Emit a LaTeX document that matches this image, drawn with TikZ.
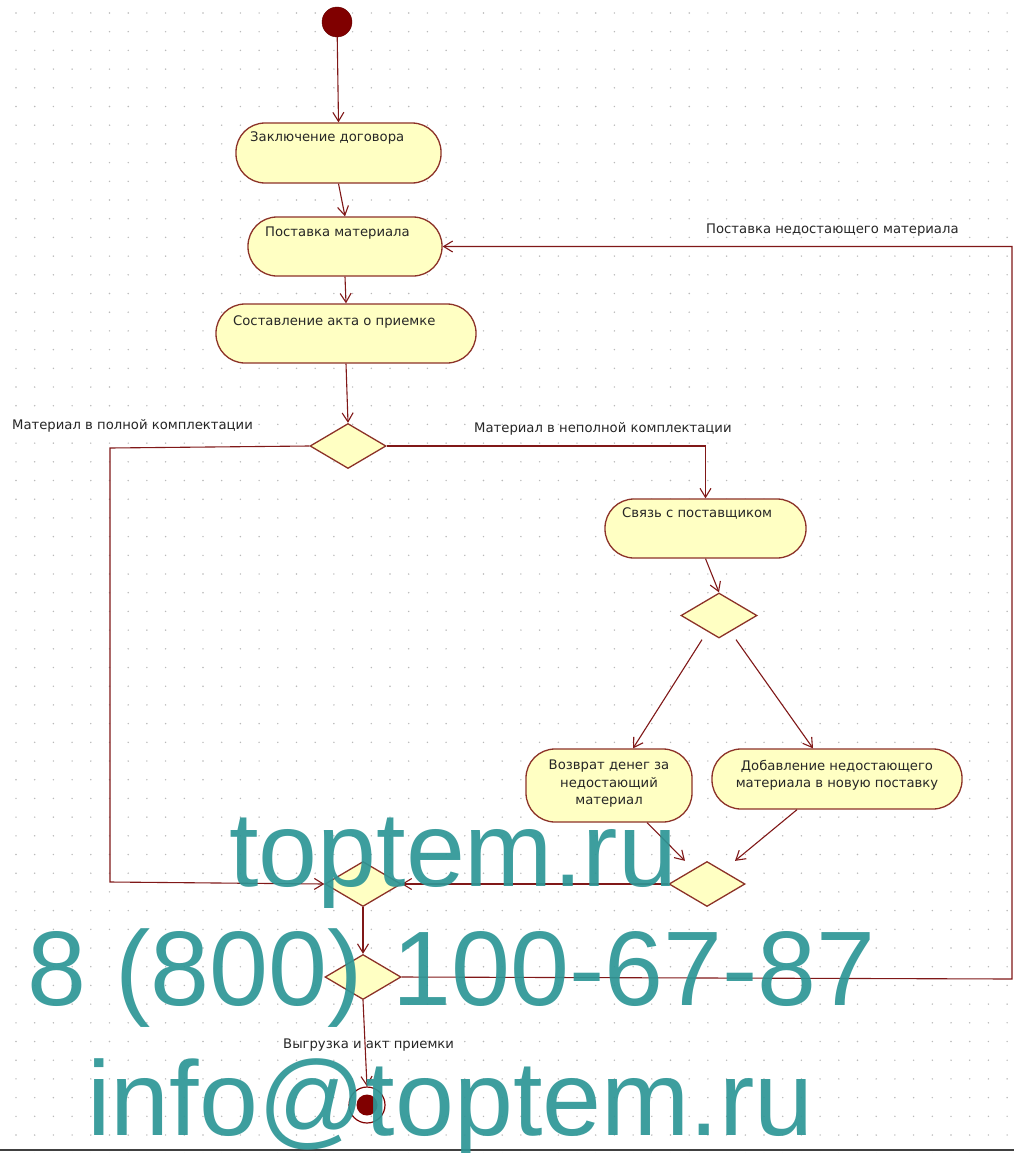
\documentclass[tikz,border=0pt]{standalone}
\usepackage{fontspec}
\setmainfont{DejaVu Sans}
\newfontfamily\wmfont{Liberation Sans}
\usetikzlibrary{arrows.meta,shapes.geometric,calc}
\definecolor{edgec}{RGB}{128,24,24}
\definecolor{fillc}{RGB}{255,255,195}
\definecolor{borderc}{RGB}{140,50,40}
\definecolor{startc}{RGB}{128,0,0}
\definecolor{wmc}{RGB}{45,150,150}
\definecolor{dotc}{RGB}{185,185,185}
\begin{document}
\begin{tikzpicture}[x=1pt,y=-1pt,
  act/.style={draw=borderc, fill=fillc, line width=1.3pt, rounded corners=29pt, inner sep=0pt},
  dec/.style={draw=borderc, fill=fillc, line width=1.3pt, diamond, inner sep=0pt, minimum width=76pt, minimum height=45pt},
  lbl/.style={font=\fontsize{13.2}{17.5}\selectfont, text=black!85, inner sep=0pt},
  flow/.style={draw=edgec, line width=1.1pt, -{Straight Barb[length=9pt,width=11pt]}},
  wm/.style={font=\wmfont\fontsize{106}{106}\selectfont, text=wmc, text opacity=0.92, inner sep=0pt}
]
\useasboundingbox (0,0) rectangle (1014,1153);
\fill[white] (0,0) rectangle (1014,1153);
\foreach \i in {0,...,54}{\foreach \j in {0,...,61}{\fill[dotc] (16+\i*18.7,13+\j*18.7) circle (0.8);}}

% nodes
\node[circle, fill=startc, draw=startc!80!black, minimum size=30pt, inner sep=0pt] (start) at (337,22) {};
\node[act, minimum width=205pt, minimum height=60pt] (n1) at (338.5,153) {};
\node[lbl, anchor=base west] (t1) at (250,142) {Заключение договора};
\node[act, minimum width=194pt, minimum height=59pt] (n2) at (345,246.5) {};
\node[lbl, anchor=base west] (t2) at (265,236) {Поставка материала};
\node[act, minimum width=260pt, minimum height=59pt] (n3) at (346,333.5) {};
\node[lbl, anchor=base west] (t3) at (233,325) {Составление акта о приемке};
\node[dec] (d1) at (348,446) {};
\node[act, minimum width=201pt, minimum height=59pt] (n4) at (705.5,528.5) {};
\node[lbl, anchor=base west] (t4) at (622,517) {Связь с поставщиком};
\node[dec] (d2) at (719,615.5) {};
\node[act, minimum width=166pt, minimum height=73pt] (n5) at (609,785.5) {};
\node[lbl, align=center] (t5) at (609,784) {Возврат денег за\\недостающий\\материал};
\node[act, minimum width=250pt, minimum height=60pt] (n6) at (837,779) {};
\node[lbl, align=center] (t6) at (837,775) {Добавление недостающего\\материала в новую поставку};
\node[dec] (d3) at (707,884) {};
\node[dec] (d4) at (363,884) {};
\node[dec] (d5) at (363,977) {};
\node[circle, draw=startc, line width=1.2pt, minimum size=36pt, inner sep=0pt] (end) at (367,1105) {};
\node[circle, fill=startc, minimum size=21pt, inner sep=0pt] (endin) at (end.center) {};

% coordinates for bends
\coordinate (cL1) at (110,448);
\coordinate (cL2) at (110,882);
\coordinate (cR1) at (1012,979);
\coordinate (cR2) at (1012,246.5);

% connectors
\draw[flow] (start) -- (n1.north);
\draw[flow] (n1.south) -- (n2.north);
\draw[flow] (n2.south) -- (n3.north);
\draw[flow] (n3.south) -- (d1.north);
\draw[flow] (d1.west) -- (cL1) -- (cL2) -- (d4.west);
\draw[flow] (d1.east) -| (n4.north);
\draw[flow] (n4.south) -- (d2.north);
\draw[flow] ($(d2.south)+(-17,1)$) -- ($(n5.north)+(24,0)$);
\draw[flow] ($(d2.south)+(17,1)$) -- ($(n6.north)+(-24,0)$);
\draw[flow] ($(n5.south)+(38,0)$) -- ($(d3.north)+(-22,0)$);
\draw[flow] ($(n6.south)+(-40,0)$) -- ($(d3.north)+(28,0)$);
\draw[flow] (d3.west) -- (d4.east);
\draw[flow] (d4.south) -- (d5.north);
\draw[flow] (d5.east) -- (cR1) -- (cR2) -- (n2.east);
\draw[flow] (d5.south) -- (end.north);

% edge labels
\node[lbl, anchor=base west] (l1) at (12,429) {Материал в полной комплектации};
\node[lbl, anchor=base west] (l2) at (474,432) {Материал в неполной комплектации};
\node[lbl, anchor=base west] (l3) at (706,233) {Поставка недостающего материала};
\node[lbl, anchor=base west] (l4) at (283,1048) {Выгрузка и акт приемки};

% bottom rule
\draw[black!75, line width=1.5pt] (0,1150) -- (1014,1150);

% watermark
\node[wm, anchor=base west] (w1) at (229,886) {toptem.ru};
\node[wm, anchor=base west] (w2) at (27,1005) {8 (800) 100-67-87};
\node[wm, anchor=base west] (w3) at (87,1135) {info@toptem.ru};
\end{tikzpicture}
\end{document}
